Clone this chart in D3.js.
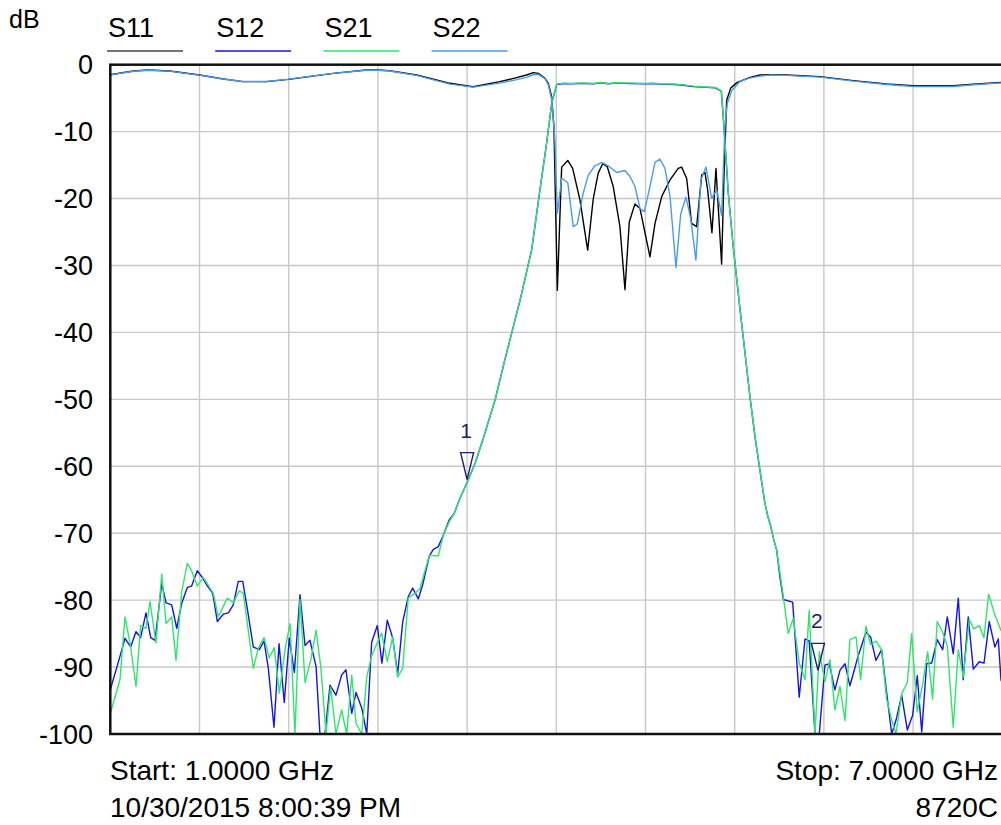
<!DOCTYPE html>
<html>
<head>
<meta charset="utf-8">
<script src="https://cdn.jsdelivr.net/npm/d3@7"></script>
<style>
  body { margin: 0; background: #fff; }
  text { font-family: Arial, "Liberation Sans", sans-serif; }
</style>
</head>
<body>
<div id="chart"></div>
<script>
// traces: [GHz, dB]
const s11 = [
  [1.000,-1.5],[1.020,-1.43],[1.155,-0.94],[1.256,-0.79],[1.400,-0.94],[1.600,-1.54],[1.750,-2.1],[1.890,-2.53],
  [2.050,-2.53],[2.200,-2.2],[2.350,-1.75],[2.500,-1.29],[2.720,-0.79],[2.800,-0.79],[2.880,-0.9],[3.060,-1.54],
  [3.180,-2.2],[3.285,-2.78],[3.440,-3.29],[3.620,-2.53],[3.720,-2.0],[3.800,-1.54],[3.845,-1.19],[3.879,-1.29],
  [3.924,-2.03],[3.946,-2.78],[3.969,-4.78],[3.984,-9.26],[4.007,-33.7],[4.036,-15.3],[4.077,-14.3],[4.110,-15.5],
  [4.159,-20.2],[4.211,-27.7],[4.249,-19.96],[4.282,-16.2],[4.312,-14.8],[4.343,-15.24],[4.383,-18.2],[4.428,-24.2],
  [4.462,-33.6],[4.491,-23.5],[4.529,-20.8],[4.563,-21.5],[4.630,-28.7],[4.664,-23.7],[4.709,-19.7],[4.765,-17.2],
  [4.820,-15.5],[4.843,-15.3],[4.877,-17.0],[4.910,-23.7],[4.944,-24.2],[4.978,-16.5],[5.000,-16.1],[5.018,-18.7],
  [5.047,-25.1],[5.074,-15.5],[5.112,-29.8],[5.128,-16.5],[5.146,-5.3],[5.173,-3.5],[5.213,-2.7],[5.303,-1.9],
  [5.370,-1.54],[5.437,-1.49],[5.550,-1.54],[5.774,-1.78],[5.998,-2.38],[6.222,-2.88],[6.401,-3.13],[6.670,-3.13],
  [6.828,-2.88],[7.000,-2.65]
];

const s22 = [
  [1.000,-1.55],[1.020,-1.45],[1.155,-0.98],[1.256,-0.82],[1.400,-0.96],[1.600,-1.56],[1.750,-2.1],[1.890,-2.5],
  [2.050,-2.5],[2.200,-2.15],[2.350,-1.7],[2.500,-1.3],[2.720,-0.82],[2.800,-0.82],[2.880,-0.95],[3.060,-1.6],
  [3.180,-2.3],[3.285,-2.9],[3.440,-3.35],[3.620,-2.75],[3.720,-2.3],[3.800,-1.9],[3.845,-1.5],[3.879,-1.45],
  [3.924,-2.1],[3.946,-3.0],[3.969,-5.2],[3.990,-11.0],[4.007,-22.2],[4.036,-16.97],[4.077,-17.6],[4.114,-24.2],
  [4.141,-23.8],[4.181,-19.2],[4.215,-16.5],[4.260,-15.1],[4.305,-14.6],[4.349,-15.1],[4.406,-16.1],[4.462,-15.8],
  [4.496,-16.7],[4.529,-18.2],[4.563,-21.5],[4.592,-21.96],[4.630,-18.2],[4.664,-14.6],[4.697,-14.1],[4.731,-15.5],
  [4.765,-19.7],[4.805,-30.3],[4.837,-22.3],[4.872,-19.8],[4.904,-22.96],[4.939,-29.2],[4.973,-17.2],[5.007,-15.3],
  [5.045,-19.96],[5.079,-18.7],[5.112,-22.5],[5.134,-9.3],[5.150,-5.8],[5.180,-3.9],[5.235,-2.5],[5.300,-2.0],
  [5.370,-1.7],[5.437,-1.55],[5.550,-1.6],[5.774,-1.85],[5.998,-2.45],[6.222,-2.95],[6.401,-3.25],[6.670,-3.25],
  [6.828,-2.95],[7.000,-2.7]
];

const s12 = [
  [1.000,-93.4],[1.065,-88.4],[1.099,-85.7],[1.137,-87.0],[1.173,-84.7],[1.204,-85.6],[1.240,-81.9],[1.272,-85.6],
  [1.301,-86.0],[1.346,-77.5],[1.375,-80.4],[1.413,-80.7],[1.447,-84.2],[1.480,-80.5],[1.518,-78.1],[1.547,-77.9],
  [1.585,-75.6],[1.615,-76.5],[1.648,-77.7],[1.689,-79.0],[1.720,-83.2],[1.760,-82.1],[1.794,-81.9],[1.827,-80.7],
  [1.861,-77.2],[1.891,-77.2],[1.921,-81.2],[1.962,-87.0],[2.002,-87.4],[2.034,-86.1],[2.063,-90.2],[2.101,-99.0],
  [2.135,-86.5],[2.170,-95.3],[2.204,-85.7],[2.238,-90.8],[2.276,-79.2],[2.310,-86.8],[2.343,-86.0],[2.384,-89.9],
  [2.410,-100],[2.444,-100],[2.478,-92.7],[2.518,-94.2],[2.556,-91.2],[2.585,-90.4],[2.624,-96.9],[2.653,-93.8],
  [2.691,-96.1],[2.725,-100],[2.758,-86.3],[2.796,-83.8],[2.827,-89.4],[2.863,-83.0],[2.899,-85.6],[2.933,-91.0],
  [2.967,-83.2],[3.004,-79.5],[3.034,-78.2],[3.072,-79.8],[3.101,-77.7],[3.146,-73.4],[3.173,-72.4],[3.206,-72.0],
  [3.240,-70.3],[3.280,-68.0],[3.314,-67.0],[3.348,-65.0],[3.408,-62.0],[3.453,-59.6],[3.509,-55.8],[3.588,-50.1],
  [3.655,-44.0],[3.756,-35.2],[3.834,-27.7],[3.890,-18.7],[3.935,-11.7],[3.969,-5.8],[4.003,-2.95],[4.050,-2.8],
  [4.100,-2.85],[4.150,-2.8],[4.200,-2.8],[4.250,-2.85],[4.300,-2.7],[4.350,-2.85],[4.400,-2.75],[4.500,-2.8],
  [4.600,-2.85],[4.650,-2.8],[4.700,-2.9],[4.800,-2.95],[4.870,-3.1],[4.920,-3.25],[4.980,-3.35],[5.070,-3.45],
  [5.110,-3.95],[5.128,-9.3],[5.157,-19.2],[5.190,-27.2],[5.236,-36.6],[5.269,-43.0],[5.302,-49.5],[5.336,-55.5],
  [5.369,-60.5],[5.403,-65.5],[5.423,-67.5],[5.443,-69.0],[5.463,-71.0],[5.482,-72.5],[5.504,-76.5],[5.527,-79.9],
  [5.590,-80.3],[5.634,-94.5],[5.673,-85.8],[5.701,-86.1],[5.740,-100],[5.769,-100],[5.807,-89.7],[5.836,-89.5],
  [5.874,-93.4],[5.908,-90.5],[5.942,-89.5],[5.975,-92.8],[6.031,-88.3],[6.083,-84.8],[6.114,-85.5],[6.150,-89.0],
  [6.188,-87.4],[6.222,-93.8],[6.256,-100],[6.289,-97.6],[6.323,-94.2],[6.361,-99.4],[6.397,-97.2],[6.428,-91.3],
  [6.458,-99.7],[6.491,-89.5],[6.525,-89.4],[6.562,-85.9],[6.599,-87.4],[6.630,-82.5],[6.670,-88.0],[6.704,-79.7],
  [6.737,-91.9],[6.771,-82.5],[6.805,-90.3],[6.845,-89.2],[6.877,-89.4],[6.912,-83.2],[6.950,-87.0],[6.973,-85.8],
  [6.991,-91.9],[7.000,-92.5]
];

const s21 = [
  [1.000,-96.9],[1.065,-91.9],[1.099,-82.5],[1.137,-87.0],[1.173,-92.9],[1.204,-83.8],[1.240,-84.2],[1.267,-80.2],
  [1.307,-86.4],[1.346,-76.1],[1.375,-83.5],[1.413,-82.5],[1.442,-89.0],[1.480,-78.8],[1.518,-74.5],[1.547,-75.6],
  [1.585,-77.9],[1.626,-76.6],[1.693,-79.0],[1.726,-82.5],[1.787,-79.7],[1.827,-80.4],[1.868,-78.6],[1.895,-79.0],
  [1.962,-90.2],[1.995,-87.2],[2.034,-85.6],[2.069,-88.6],[2.103,-87.1],[2.137,-93.9],[2.175,-87.4],[2.209,-83.5],
  [2.242,-100],[2.276,-79.9],[2.310,-92.3],[2.348,-89.0],[2.384,-84.5],[2.417,-90.2],[2.451,-100],[2.482,-93.0],
  [2.518,-100],[2.556,-96.4],[2.590,-100],[2.624,-91.2],[2.653,-98.4],[2.691,-100],[2.725,-91.5],[2.758,-88.3],
  [2.825,-84.9],[2.863,-89.2],[2.899,-85.5],[2.933,-91.5],[2.967,-90.2],[3.004,-79.7],[3.049,-79.0],[3.083,-78.3],
  [3.146,-73.3],[3.206,-73.4],[3.240,-70.3],[3.280,-68.3],[3.314,-67.0],[3.348,-65.0],[3.408,-62.0],[3.453,-59.6],
  [3.509,-55.8],[3.588,-50.1],[3.655,-44.0],[3.756,-35.2],[3.834,-27.7],[3.890,-18.7],[3.935,-11.7],[3.969,-5.8],
  [4.003,-2.9],[4.050,-2.75],[4.100,-2.8],[4.150,-2.75],[4.200,-2.75],[4.250,-2.8],[4.300,-2.65],[4.350,-2.8],
  [4.400,-2.7],[4.500,-2.75],[4.600,-2.8],[4.650,-2.75],[4.700,-2.85],[4.800,-2.9],[4.870,-3.05],[4.920,-3.2],
  [4.980,-3.3],[5.070,-3.4],[5.110,-3.9],[5.128,-9.3],[5.157,-19.2],[5.190,-27.2],[5.236,-36.6],[5.269,-43.0],
  [5.302,-49.5],[5.336,-55.5],[5.369,-60.5],[5.403,-65.5],[5.423,-67.5],[5.443,-69.0],[5.463,-71.0],[5.482,-72.5],
  [5.523,-78.8],[5.560,-85.0],[5.594,-82.7],[5.634,-89.4],[5.673,-91.9],[5.701,-81.5],[5.740,-100],[5.769,-87.7],
  [5.807,-92.2],[5.841,-88.9],[5.874,-96.4],[5.908,-92.9],[5.942,-98.0],[5.975,-85.9],[6.016,-85.5],[6.047,-91.9],
  [6.083,-83.9],[6.114,-86.7],[6.150,-86.1],[6.188,-87.4],[6.222,-94.8],[6.256,-97.9],[6.285,-100],[6.323,-94.0],
  [6.361,-92.3],[6.390,-85.0],[6.428,-96.7],[6.464,-92.6],[6.498,-87.7],[6.531,-94.8],[6.562,-83.2],[6.599,-84.8],
  [6.630,-86.8],[6.670,-99.0],[6.704,-87.4],[6.737,-91.5],[6.778,-82.9],[6.809,-84.3],[6.845,-83.8],[6.877,-85.6],
  [6.908,-79.1],[6.950,-82.2],[6.991,-84.5],[7.000,-84.8]
];

const traceNames = ["S11", "S12", "S21", "S22"];
const traceColors = ["#000000", "#1414e6", "#2ee66b", "#4a9bec"];
const traces = [s11, s12, s21, s22];

const xGridTicks = [1.6, 2.2, 2.8, 3.4, 4.0, 4.6, 5.2, 5.8, 6.4];
const yTicks = [0, -10, -20, -30, -40, -50, -60, -70, -80, -90, -100];

// markers: [label, GHz, dB]
const markers = [["1", 3.4, -62.0], ["2", 5.76, -90.5]];

const footerLines = [
  ["Start: 1.0000 GHz", "Stop: 7.0000 GHz"],
  ["10/30/2015 8:00:39 PM", "8720C"]
];

const width = 1001;
const height = 825;

const margin = {
  left: 110.3,
  right: -1.3,
  top: 64.7,
  bottom: 91
};

const svg = d3.select("#chart").append("svg")
    .attr("width", width)
    .attr("height", height)
    .style("display", "block");

svg.append("rect")
    .attr("width", width)
    .attr("height", height)
    .attr("fill", "white");

const xScale = d3.scaleLinear()
    .domain([1, 7])
    .range([margin.left, width - margin.right]);

const yScale = d3.scaleLinear()
    .domain([-100, 0])
    .range([height - margin.bottom, margin.top]);

svg.append("clipPath")
    .attr("id", "plot-clip")
  .append("rect")
    .attr("x", margin.left)
    .attr("y", margin.top - 1)
    .attr("width", width - margin.right - margin.left)
    .attr("height", height - margin.bottom - margin.top + 2);

// grid
svg.append("g")
    .attr("class", "grid")
  .selectAll("line")
  .data(xGridTicks)
  .join("line")
    .attr("x1", d => xScale(d))
    .attr("x2", d => xScale(d))
    .attr("y1", margin.top)
    .attr("y2", height - margin.bottom)
    .attr("stroke", "#c8c8c8")
    .attr("stroke-width", 1.4);

svg.append("g")
    .attr("class", "grid")
  .selectAll("line")
  .data(yTicks.slice(1, -1))
  .join("line")
    .attr("x1", margin.left)
    .attr("x2", width - margin.right)
    .attr("y1", d => yScale(d))
    .attr("y2", d => yScale(d))
    .attr("stroke", "#c8c8c8")
    .attr("stroke-width", 1.4);

// traces
const line = d3.line()
    .x(d => xScale(d[0]))
    .y(d => yScale(d[1]));

svg.append("g")
    .attr("clip-path", "url(#plot-clip)")
  .selectAll(".trace")
  .data(traces)
  .join("path")
    .attr("class", "trace")
    .attr("fill", "none")
    .attr("stroke", (_, i) => traceColors[i])
    .attr("stroke-width", 1.4)
    .attr("stroke-linejoin", "round")
    .attr("d", d => line(d));

// frame
svg.append("rect")
    .attr("x", margin.left)
    .attr("y", margin.top)
    .attr("width", width - margin.right - margin.left)
    .attr("height", height - margin.bottom - margin.top)
    .attr("fill", "none")
    .attr("stroke", "#111")
    .attr("stroke-width", 2.5);

// y tick labels
svg.append("g")
  .selectAll("text")
  .data(yTicks)
  .join("text")
    .attr("x", 93)
    .attr("y", d => yScale(d))
    .attr("dy", "0.36em")
    .attr("text-anchor", "end")
    .style("font-size", "27px")
    .attr("fill", "black")
    .text(d => d);

svg.append("text")
    .attr("x", 9)
    .attr("y", 28)
    .style("font-size", "25px")
    .attr("fill", "black")
    .text("dB");

// legend
const legend = svg.append("g")
    .selectAll("g")
    .data(traceNames)
    .join("g")
      .attr("transform", (_, i) => `translate(${108 + i * 108.2},0)`);

legend.append("text")
    .attr("x", 0)
    .attr("y", 37)
    .style("font-size", "27px")
    .attr("fill", "black")
    .text(d => d);

legend.append("line")
    .attr("x1", -1)
    .attr("x2", 75)
    .attr("y1", 51)
    .attr("y2", 51)
    .attr("stroke", (_, i) => i === 0 ? "#444" : traceColors[i])
    .attr("stroke-width", 1.3);

// markers
const markerColor = "#1c1c7a";
const mk = svg.append("g")
  .selectAll("g")
  .data(markers)
  .join("g")
    .attr("transform", d => `translate(${xScale(d[1])},${yScale(d[2])})`);

mk.append("path")
    .attr("d", "M0,0L-6.5,-27L6.5,-27Z")
    .attr("fill", "none")
    .attr("stroke", markerColor)
    .attr("stroke-width", 1.4)
    .attr("stroke-linejoin", "miter");

mk.append("text")
    .attr("x", -1)
    .attr("y", -42)
    .attr("text-anchor", "middle")
    .style("font-size", "21px")
    .attr("fill", markerColor)
    .text(d => d[0]);

// footer
svg.append("g")
  .selectAll("text")
  .data(footerLines.map(d => d[0]))
  .join("text")
    .attr("x", 110)
    .attr("y", (_, i) => 780 + i * 37)
    .style("font-size", "28px")
    .attr("fill", "black")
    .text(d => d);

svg.append("g")
  .selectAll("text")
  .data(footerLines.map(d => d[1]))
  .join("text")
    .attr("x", 998)
    .attr("y", (_, i) => 780 + i * 37)
    .attr("text-anchor", "end")
    .style("font-size", "28px")
    .attr("fill", "black")
    .text(d => d);
</script>
</body>
</html>
